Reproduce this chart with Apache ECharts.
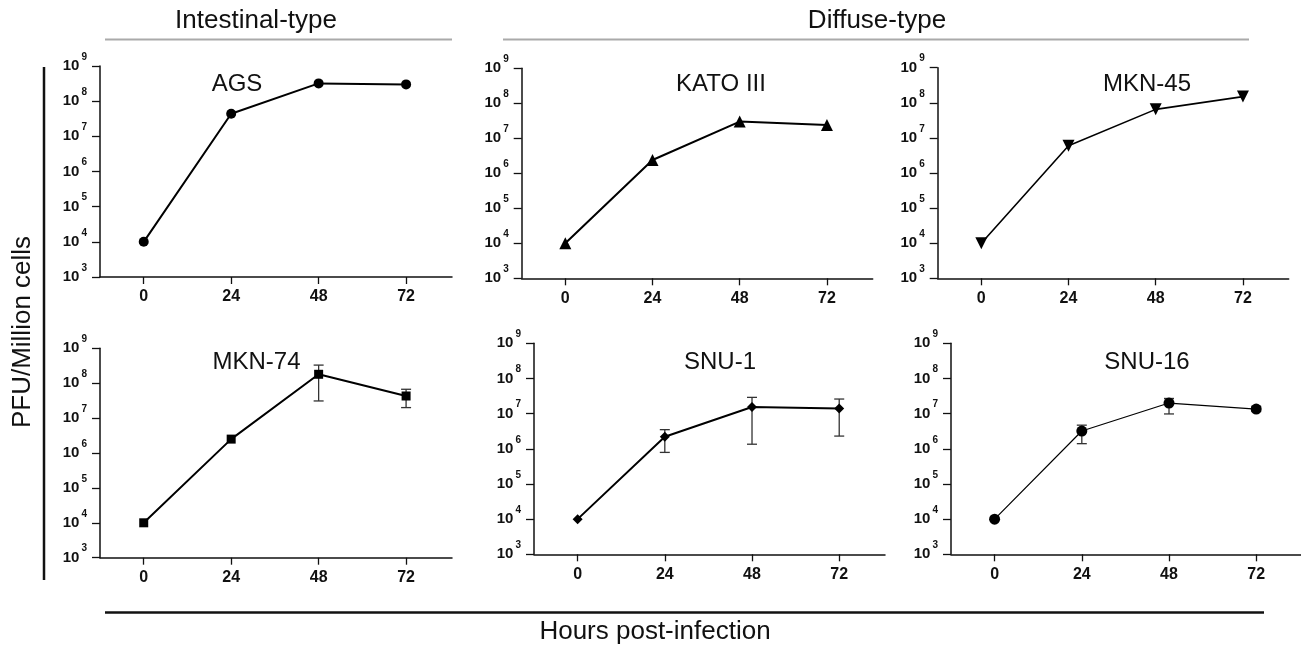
<!DOCTYPE html>
<html lang="en">
<head>
  <meta charset="UTF-8">
  <title>PFU growth curves</title>
  <script src="https://cdn.jsdelivr.net/npm/echarts@6/dist/echarts.min.js"></script>
</head>
<body style="margin:0;background:#fff">
  <div id="app" style="width: 1301px; height: 648px;"></div>
  <script>
    // data
    var hours = [0, 24, 48, 72]
    var panelNames = ['AGS', 'KATO III', 'MKN-45', 'MKN-74', 'SNU-1', 'SNU-16']
    var agsPFU = [1.0e4, 4.4e7, 3.2e8, 3.0e8]
    var kato3PFU = [1.0e4, 2.4e6, 3.0e7, 2.4e7]
    var mkn45PFU = [1.0e4, 6.0e6, 6.5e7, 1.5e8]
    var mkn74PFU = [1.0e4, 2.5e6, 1.8e8, 4.3e7]
    var mkn74Low = [null, null, 3.1e7, 2.0e7]
    var mkn74High = [null, null, 3.3e8, 6.7e7]
    var snu1PFU = [1.0e4, 2.2e6, 1.55e7, 1.4e7]
    var snu1Low = [null, 7.9e5, 1.35e6, 2.3e6]
    var snu1High = [null, 3.5e6, 2.9e7, 2.6e7]
    var snu16PFU = [1.0e4, 3.2e6, 2.0e7, 1.35e7]
    var snu16Low = [null, 1.4e6, 9.8e6, 1.15e7]
    var snu16High = [null, 4.7e6, 2.7e7, 1.6e7]

    var FONT = 'Liberation Sans, Arial, sans-serif'

    // layout of the six panels
    var panels = [
      { vals: agsPFU, symbol: 'circle', size: 10, lw: 2, grid: [100, 66, 352, 211], title: [237, 84] },
      { vals: kato3PFU, symbol: 'triangle', size: 12, lw: 2, grid: [521.7, 68.3, 351, 210], title: [721, 84] },
      { vals: mkn45PFU, symbol: 'triangle', rotate: 180, size: 12, lw: 1.6, grid: [937.7, 67.7, 351, 210.6], title: [1147, 84] },
      { vals: mkn74PFU, low: mkn74Low, high: mkn74High, symbol: 'rect', size: 9, lw: 2, grid: [100, 348.3, 352, 209.4], title: [256.5, 362] },
      { vals: snu1PFU, low: snu1Low, high: snu1High, symbol: 'diamond', size: 10, lw: 2, grid: [534, 343.3, 351, 211], title: [720, 362] },
      { vals: snu16PFU, low: snu16Low, high: snu16High, symbol: 'circle', size: 11, lw: 1.2, grid: [951, 343.3, 351, 211], title: [1147, 362] }
    ]

    function renderErrorBar(params, api) {
      var x = api.value(0)
      var lo = api.coord([x, api.value(1)])
      var hi = api.coord([x, api.value(2)])
      var w = 5
      var st = { stroke: '#333', lineWidth: 1.3 }
      return {
        type: 'group',
        children: [
          { type: 'line', shape: { x1: lo[0], y1: lo[1], x2: hi[0], y2: hi[1] }, style: st },
          { type: 'line', shape: { x1: hi[0] - w, y1: hi[1], x2: hi[0] + w, y2: hi[1] }, style: st },
          { type: 'line', shape: { x1: lo[0] - w, y1: lo[1], x2: lo[0] + w, y2: lo[1] }, style: st }
        ]
      }
    }

    var grids = [], xAxes = [], yAxes = [], series = []
    var graphics = []

    panels.forEach(function (p, i) {
      grids.push({ left: p.grid[0], top: p.grid[1], width: p.grid[2], height: p.grid[3], outerBoundsMode: 'none' })
      xAxes.push({
        gridIndex: i, type: 'value', min: -12, max: 84.6,
        axisLine: { onZero: false, lineStyle: { color: '#111', width: 1.5 } },
        axisTick: { customValues: hours, length: 7, lineStyle: { color: '#111', width: 1.3 } },
        axisLabel: { customValues: hours, margin: 12, color: '#111', fontSize: 16, fontWeight: 'bold', fontFamily: FONT },
        splitLine: { show: false }
      })
      yAxes.push({
        gridIndex: i, type: 'log', logBase: 10, min: 1e3, max: 1e9, splitNumber: 6,
        axisLine: { show: true, onZero: false, lineStyle: { color: '#111', width: 1.5 } },
        axisTick: { show: true, length: 8, lineStyle: { color: '#111', width: 1.3 } },
        axisLabel: {
          margin: 13,
          formatter: function (v) {
            return '{b|10}{s|' + Math.round(Math.log10(v)) + '}'
          },
          rich: {
            b: { fontSize: 15, lineHeight: 15, fontWeight: 'bold', color: '#111', fontFamily: FONT },
            s: { fontSize: 10, lineHeight: 10, fontWeight: 'bold', color: '#111', fontFamily: FONT, padding: [0, 0, 18, 2] }
          }
        },
        splitLine: { show: false }
      })
      if (p.low) {
        var errData = []
        hours.forEach(function (h, k) {
          if (p.low[k] != null) errData.push([h, p.low[k], p.high[k]])
        })
        series.push({
          type: 'custom', xAxisIndex: i, yAxisIndex: i, z: 1,
          renderItem: renderErrorBar,
          encode: { x: 0, y: [1, 2] },
          data: errData
        })
      }
      series.push({
        type: 'line', xAxisIndex: i, yAxisIndex: i, z: 2,
        data: hours.map(function (h, k) { return [h, p.vals[k]] }),
        symbol: p.symbol, symbolSize: p.size, symbolRotate: p.rotate || 0,
        itemStyle: { color: '#000' },
        lineStyle: { color: '#000', width: p.lw }
      })
      graphics.push({
        type: 'text', x: p.title[0], y: p.title[1],
        style: { text: panelNames[i], font: '24px ' + FONT, fill: '#111', textAlign: 'center', textVerticalAlign: 'middle' }
      })
    })

    // headers, brackets and shared axis names
    graphics.push(
      { type: 'text', x: 256, y: 21, style: { text: 'Intestinal-type', font: '26px ' + FONT, fill: '#111', textAlign: 'center', textVerticalAlign: 'middle' } },
      { type: 'text', x: 877, y: 21, style: { text: 'Diffuse-type', font: '26px ' + FONT, fill: '#111', textAlign: 'center', textVerticalAlign: 'middle' } },
      { type: 'line', shape: { x1: 105, y1: 39.5, x2: 452, y2: 39.5 }, style: { stroke: '#aaa', lineWidth: 2 } },
      { type: 'line', shape: { x1: 503, y1: 39.5, x2: 1249, y2: 39.5 }, style: { stroke: '#aaa', lineWidth: 2 } },
      { type: 'line', shape: { x1: 44, y1: 67, x2: 44, y2: 580 }, style: { stroke: '#111', lineWidth: 2.5 } },
      { type: 'text', x: 23, y: 332, rotation: Math.PI / 2, style: { text: 'PFU/Million cells', font: '26px ' + FONT, fill: '#111', textAlign: 'center', textVerticalAlign: 'middle' } },
      { type: 'line', shape: { x1: 105, y1: 612.5, x2: 1264, y2: 612.5 }, style: { stroke: '#111', lineWidth: 2.5 } },
      { type: 'text', x: 655, y: 632, style: { text: 'Hours post-infection', font: '26px ' + FONT, fill: '#111', textAlign: 'center', textVerticalAlign: 'middle' } }
    )

    var mCharts = echarts.init(document.querySelector('#app'))
    mCharts.setOption({
      animation: false,
      backgroundColor: '#fff',
      grid: grids,
      xAxis: xAxes,
      yAxis: yAxes,
      series: series,
      graphic: graphics
    })
  </script>
</body>
</html>
